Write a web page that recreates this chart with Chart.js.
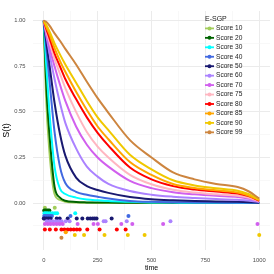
<!DOCTYPE html>
<html>
<head>
<script src="https://cdn.jsdelivr.net/npm/chart.js"></script>
<style>
  html, body { margin: 0; padding: 0; background: #fff; }
  #chart { display: block; }
</style>
</head>
<body>
<canvas id="chart" width="274" height="274"></canvas>
<script>
// survival curves, one array per score group
const times = [0, 10, 25, 50, 75, 100, 150, 200, 250, 300, 400, 500, 600, 700, 800, 900, 950, 1000];

const score10 = [1, 0.60, 0.30, 0.05, 0.018, 0.008, 0.003, 0.002, 0.001, 0.001, 0.001, 0, 0, 0, 0, 0, 0, 0];
const score20 = [1, 0.68, 0.40, 0.09, 0.03, 0.013, 0.006, 0.004, 0.003, 0.003, 0.002, 0.002, 0.001, 0.001, 0.001, 0.001, 0.001, 0.001];
const score30 = [1, 0.78, 0.52, 0.20, 0.08, 0.05, 0.03, 0.02, 0.015, 0.011, 0.007, 0.004, 0.003, 0.002, 0.002, 0.001, 0.001, 0.001];
const score40 = [1, 0.87, 0.69, 0.39, 0.20, 0.11, 0.062, 0.046, 0.035, 0.025, 0.012, 0.007, 0.005, 0.004, 0.003, 0.002, 0.002, 0.001];
const score50 = [1, 0.90, 0.77, 0.55, 0.38, 0.26, 0.14, 0.093, 0.072, 0.056, 0.033, 0.021, 0.015, 0.011, 0.009, 0.007, 0.005, 0.002];
const score60 = [1, 0.93, 0.83, 0.68, 0.55, 0.44, 0.30, 0.20, 0.145, 0.105, 0.066, 0.046, 0.035, 0.028, 0.022, 0.018, 0.014, 0.005];
const score70 = [1, 0.94, 0.86, 0.75, 0.65, 0.56, 0.42, 0.32, 0.25, 0.20, 0.122, 0.082, 0.06, 0.048, 0.04, 0.034, 0.025, 0.008];
const score75 = [1, 0.95, 0.89, 0.79, 0.71, 0.63, 0.50, 0.39, 0.31, 0.25, 0.155, 0.103, 0.073, 0.058, 0.048, 0.04, 0.03, 0.01];
const score80 = [1, 0.96, 0.91, 0.82, 0.75, 0.68, 0.57, 0.47, 0.385, 0.315, 0.195, 0.13, 0.093, 0.074, 0.063, 0.052, 0.038, 0.013];
const score85 = [1, 0.97, 0.93, 0.85, 0.78, 0.72, 0.61, 0.51, 0.42, 0.35, 0.225, 0.155, 0.105, 0.083, 0.07, 0.058, 0.042, 0.016];
const score90 = [1, 0.98, 0.945, 0.875, 0.815, 0.76, 0.66, 0.56, 0.47, 0.40, 0.265, 0.185, 0.125, 0.097, 0.082, 0.068, 0.05, 0.02];
const score99 = [1, 0.995, 0.975, 0.93, 0.89, 0.845, 0.76, 0.665, 0.575, 0.495, 0.345, 0.25, 0.168, 0.13, 0.105, 0.088, 0.065, 0.025];

// event times drawn as rows of dots under the curves
const rug10 = [5, 51];
const rug20 = [2, 8, 14, 20, 26];
const rug30 = [3, 10, 18, 28, 40, 52, 62, 146];
const rug40 = [2, 8, 15, 22, 30, 38, 124, 393];
const rug50 = [0, 5, 14, 23, 32, 60, 74, 111, 153, 179, 204, 216, 227, 236, 245, 315];
const rug60 = [14, 28, 42, 56, 69, 83, 102, 120, 278, 287, 385, 588];
const rug70 = [5, 19, 32, 46, 60, 74, 88, 157, 231, 251, 360, 411, 554, 992];
const rug75 = [];
const rug80 = [5, 28, 56, 82, 96, 111, 125, 139, 153, 167, 202, 259, 339, 380];
const rug85 = [102];
const rug90 = [144, 187, 282, 390, 468, 1000];
const rug99 = [82];
const rugRows = [-0.025, -0.04, -0.055, -0.07, -0.085, -0.10, -0.115, -0.13, -0.145, -0.16, -0.175, -0.19];

const scoreLabels = ["Score 10", "Score 20", "Score 30", "Score 40", "Score 50", "Score 60",
  "Score 70", "Score 75", "Score 80", "Score 85", "Score 90", "Score 99"];
const legendTitle = "E-SGP";
const xTickValues = [0, 125, 250, 375, 500, 625, 750, 875, 1000];
const yTickValues = [-0.125, 0, 0.125, 0.25, 0.375, 0.5, 0.625, 0.75, 0.875, 1];

const curves = [score10, score20, score30, score40, score50, score60, score70, score75, score80, score85, score90, score99];
const rugs = [rug10, rug20, rug30, rug40, rug50, rug60, rug70, rug75, rug80, rug85, rug90, rug99];
const colors = ["#A2CD5A", "#006400", "#00FFFF", "#4169E1", "#191970", "#AB82FF",
  "#D15FEE", "#FFB6C1", "#FF0000", "#FFA500", "#F0C800", "#CD853F"];

const FONT = '"Liberation Sans", Arial, sans-serif';

const datasets = [];
curves.forEach((vals, i) => {
  datasets.push({
    label: scoreLabels[i],
    data: vals.map((v, j) => ({ x: times[j], y: v })),
    borderColor: colors[i],
    borderWidth: 2,
    pointRadius: 0,
    fill: false,
    cubicInterpolationMode: "monotone",
    order: curves.length - i,
  });
});
rugs.forEach((xs, i) => {
  datasets.push({
    label: scoreLabels[i] + " events",
    data: xs.map((x) => ({ x: x, y: rugRows[i] })),
    showLine: false,
    pointRadius: 2,
    pointBorderWidth: 0,
    pointBackgroundColor: colors[i],
    borderColor: colors[i],
    order: 20 + curves.length - i,
  });
});

function isMajorX(v) { return v % 250 === 0; }
function isMajorY(v) { return v >= 0 && Math.abs(v * 4 - Math.round(v * 4)) < 1e-9; }

// legend drawn inside the panel, like the ggplot one
const legendPlugin = {
  id: "insideLegend",
  afterDraw(chart) {
    const ctx = chart.ctx;
    ctx.save();
    ctx.textBaseline = "middle";
    ctx.textAlign = "left";
    ctx.fillStyle = "#1a1a1a";
    ctx.font = "7px " + FONT;
    ctx.fillText(legendTitle, 205, 19);
    ctx.font = "6.6px " + FONT;
    scoreLabels.forEach((lab, i) => {
      const y = 28.4 + i * 9.45;
      ctx.strokeStyle = colors[i];
      ctx.lineWidth = 1.8;
      ctx.beginPath();
      ctx.moveTo(205, y);
      ctx.lineTo(214, y);
      ctx.stroke();
      ctx.fillStyle = colors[i];
      ctx.beginPath();
      ctx.arc(209.5, y, 2, 0, Math.PI * 2);
      ctx.fill();
      ctx.fillStyle = "#1a1a1a";
      ctx.fillText(lab, 216, y);
    });
    ctx.restore();
  },
};

new Chart(document.getElementById("chart"), {
  type: "line",
  data: { datasets },
  plugins: [legendPlugin],
  options: {
    responsive: false,
    devicePixelRatio: 1,
    animation: false,
    layout: { padding: { top: 5, right: 3, left: 0, bottom: 0 } },
    plugins: { legend: { display: false }, tooltip: { enabled: false } },
    scales: {
      x: {
        type: "linear",
        min: -50,
        max: 1050,
        afterFit: (scale) => { scale.height = 24; },
        afterBuildTicks: (scale) => { scale.ticks = xTickValues.map((v) => ({ value: v })); },
        border: { display: false },
        grid: {
          drawTicks: false,
          color: (c) => (c.tick && isMajorX(c.tick.value) ? "#EBEBEB" : "#F4F4F4"),
          lineWidth: (c) => (c.tick && isMajorX(c.tick.value) ? 1 : 0.6),
        },
        ticks: {
          autoSkip: false,
          maxRotation: 0,
          padding: 7,
          color: "#4D4D4D",
          font: { family: FONT, size: 5.8 },
          callback: (v) => (isMajorX(v) ? String(v) : ""),
        },
        title: {
          display: true,
          text: "time",
          color: "#000",
          font: { family: FONT, size: 7 },
          padding: { top: 0, bottom: 2 },
        },
      },
      y: {
        type: "linear",
        min: -0.257,
        max: 1.053,
        afterFit: (scale) => { scale.width = 33; },
        afterBuildTicks: (scale) => { scale.ticks = yTickValues.map((v) => ({ value: v })); },
        border: { display: false },
        grid: {
          drawTicks: false,
          color: (c) => (c.tick && isMajorY(c.tick.value) ? "#EBEBEB" : "#F4F4F4"),
          lineWidth: (c) => (c.tick && isMajorY(c.tick.value) ? 1 : 0.6),
        },
        ticks: {
          autoSkip: false,
          padding: 7.5,
          color: "#4D4D4D",
          font: { family: FONT, size: 5.8 },
          callback: (v) => (isMajorY(v) ? v.toFixed(2) : ""),
        },
        title: {
          display: true,
          text: "S(t)",
          color: "#000",
          font: { family: FONT, size: 9 },
          padding: { top: 1, bottom: 0 },
        },
      },
    },
  },
});
</script>
</body>
</html>
